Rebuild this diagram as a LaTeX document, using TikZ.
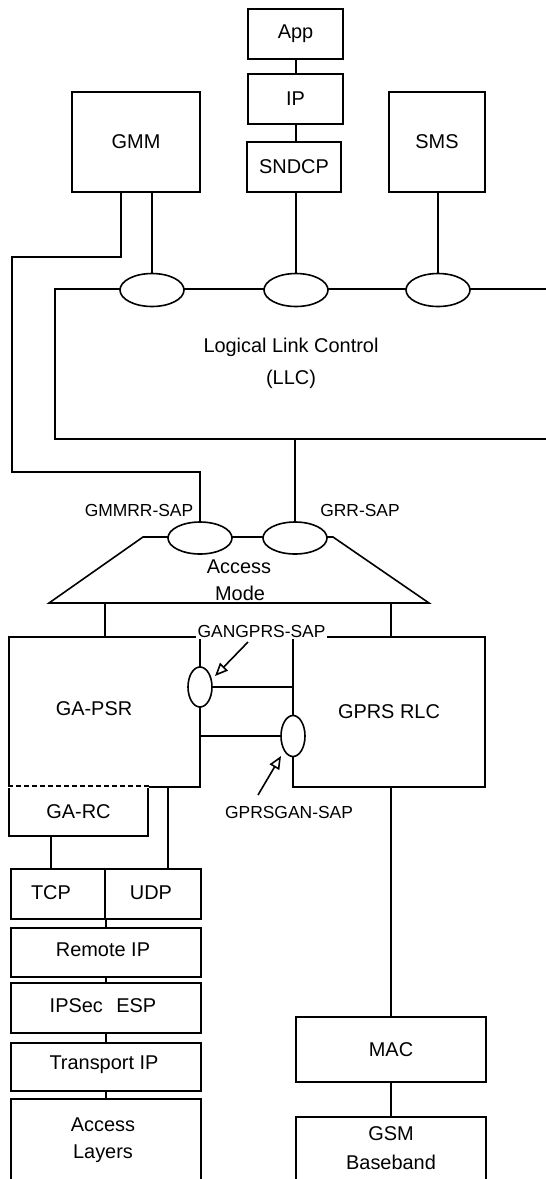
\documentclass[tikz,border=0pt]{standalone}
\usepackage{fontspec}
\setmainfont{Liberation Sans}
\usetikzlibrary{shapes.geometric,arrows.meta}
\begin{document}
\begin{tikzpicture}[x=1bp,y=-1bp,line width=1.6bp,
  every node/.style={font=\fontsize{20}{24}\selectfont},
  blk/.style={draw, fill=white, inner sep=0pt, align=center},
  txt/.style={inner sep=0pt, align=center},
  sap/.style={draw, ellipse, fill=white, inner sep=0pt},
  lbl/.style={font=\fontsize{17.5}{20}\selectfont, inner sep=1.5bp, fill=white},
  openarrow/.style={-{Triangle[open,length=13bp,width=11bp]}}]
\clip (0,0) rectangle (546,1179);
% ---------- top stack ----------
\node[blk, minimum width=95bp, minimum height=50bp] (app) at (295.5,34) {App};
\node[blk, minimum width=95bp, minimum height=50bp] (ip) at (295.5,99) {IP};
\node[blk, minimum width=94bp, minimum height=50bp] (sndcp) at (294,167) {SNDCP};
\node[blk, minimum width=128bp, minimum height=100bp] (gmm) at (136,142) {GMM};
\node[blk, minimum width=96bp, minimum height=100bp] (sms) at (437,142) {SMS};
\draw (app.south -| 296,0) -- (ip.north -| 296,0);
\draw (ip.south -| 296,0) -- (sndcp.north -| 296,0);
% ---------- LLC ----------
\coordinate (llctr) at (550,289);
\coordinate (llctl) at (55,289);
\coordinate (llcbl) at (55,439);
\coordinate (llcbr) at (550,439);
\draw (llctr) -- (llctl) -- (llcbl) -- (llcbr);
\node[txt, font=\fontsize{20}{32}\selectfont] (llc) at (291,363) {Logical Link Control\\(LLC)};
\node[sap, minimum width=64bp, minimum height=33bp] (e1) at (152,290) {};
\node[sap, minimum width=64bp, minimum height=33bp] (e2) at (296,290) {};
\node[sap, minimum width=64bp, minimum height=33bp] (e3) at (438,290) {};
\draw (e1.north |- gmm.south) -- (e1.north);
\draw (e2.north |- sndcp.south) -- (e2.north);
\draw (e3.north |- sms.south) -- (e3.north);
% ---------- Access mode ----------
\coordinate (tbl) at (49,603);
\coordinate (ttl) at (143,537);
\coordinate (ttr) at (333,537);
\coordinate (tbr) at (429,603);
\draw (tbl) -- (ttl) -- (ttr) -- (tbr) -- cycle;
\node[sap, minimum width=64bp, minimum height=32bp] (gmmrr) at (200,538) {};
\node[sap, minimum width=64bp, minimum height=32bp] (grr) at (295,538) {};
\node[txt] (access) at (239,567) {Access};
\node[txt, fill=white, inner xsep=1bp, inner ysep=1bp] (mode) at (240,593) {Mode};
\node[lbl] (gmmrrl) at (139,510) {GMMRR-SAP};
\node[lbl] (grrl) at (360,510) {GRR-SAP};
\draw (grr.north |- llcbl) -- (grr.north);
\draw ([xshift=50bp]gmm.south west) |- (12,257) -- (12,472) -| (gmmrr.north);
% ---------- GA-PSR / GPRS RLC ----------
\node[blk, minimum width=191bp, minimum height=150bp] (gapsr) at (104.5,712) {};
\node[txt] (gapsrt) at (94,709) {GA-PSR};
\node[blk, minimum width=192bp, minimum height=150bp] (gprs) at (389,712) {GPRS RLC};
\node[draw, inner sep=0pt, minimum width=139bp, minimum height=49bp] (garc) at (78.5,811.5) {GA-RC};
\draw[white, line width=2.6bp] (garc.north west) -- (garc.north east);
\draw[dash pattern=on 5bp off 3bp] (garc.north west) -- (garc.north east);
\draw (105,603) -- (105,637);
\draw (391,603) -- (391,637);
\node[lbl] (gangprsl) at (261.5,631) {GANGPRS-SAP};
\node[sap, minimum width=24bp, minimum height=40bp] (gan1) at (200,687) {};
\node[sap, minimum width=24bp, minimum height=41bp] (gan2) at (293,736) {};
\draw (gan1.east) -- (gan1.east -| gprs.west);
\draw (gan2.west) -- (gan2.west -| gapsr.east);
\node[lbl, fill=none] (gprsganl) at (289,812) {GPRSGAN-SAP};
\coordinate (a1s) at (248,642);
\coordinate (a1e) at (215,676);
\draw[openarrow] (a1s) -- (a1e);
\coordinate (a2s) at (258,795);
\coordinate (a2e) at (281,756);
\draw[openarrow] (a2s) -- (a2e);
% ---------- left lower stack ----------
\node[blk, minimum width=94bp, minimum height=50bp] (tcp) at (58,894) {};
\node[txt] (tcpt) at (51,893) {TCP};
\node[blk, minimum width=96bp, minimum height=50bp] (udp) at (153,894) {};
\node[txt] (udpt) at (151,893) {UDP};
\node[blk, minimum width=190bp, minimum height=49bp] (rip) at (106,952.5) {};
\node[txt] (ript) at (103,950) {Remote IP};
\node[blk, minimum width=190bp, minimum height=50bp] (esp) at (106,1008) {};
\node[txt] (espt) at (103,1006) {IPSec\hspace{0.4em} ESP};
\node[blk, minimum width=190bp, minimum height=48bp] (tip) at (106,1067) {};
\node[txt] (tipt) at (104,1065) {Transport IP};
\node[blk, minimum width=190bp, minimum height=110bp] (acc) at (106,1154) {};
\node[txt, font=\fontsize{20}{27}\selectfont] (acct) at (103,1140) {Access\\Layers};
\draw (51,836) -- (51,869);
\draw (168,787) -- (168,869);
\draw (tcp.south east) -- (rip.north -| tcp.east);
\draw (esp.south -| tcp.east) -- (tip.north -| tcp.east);
\draw (rip.south -| tcp.east) -- (esp.north -| tcp.east);
\draw (tip.south -| tcp.east) -- (acc.north -| tcp.east);
% ---------- right lower stack ----------
\node[blk, minimum width=190bp, minimum height=65bp] (mac) at (391,1049.5) {MAC};
\node[blk, minimum width=190bp, minimum height=110bp] (gsm) at (391,1172) {};
\node[txt, font=\fontsize{20}{29}\selectfont] (gsmt) at (391,1148) {GSM\\Baseband};
\draw (gprs.south -| mac.north) -- (mac.north);
\draw (mac.south) -- (gsm.north);
\end{tikzpicture}
\end{document}
